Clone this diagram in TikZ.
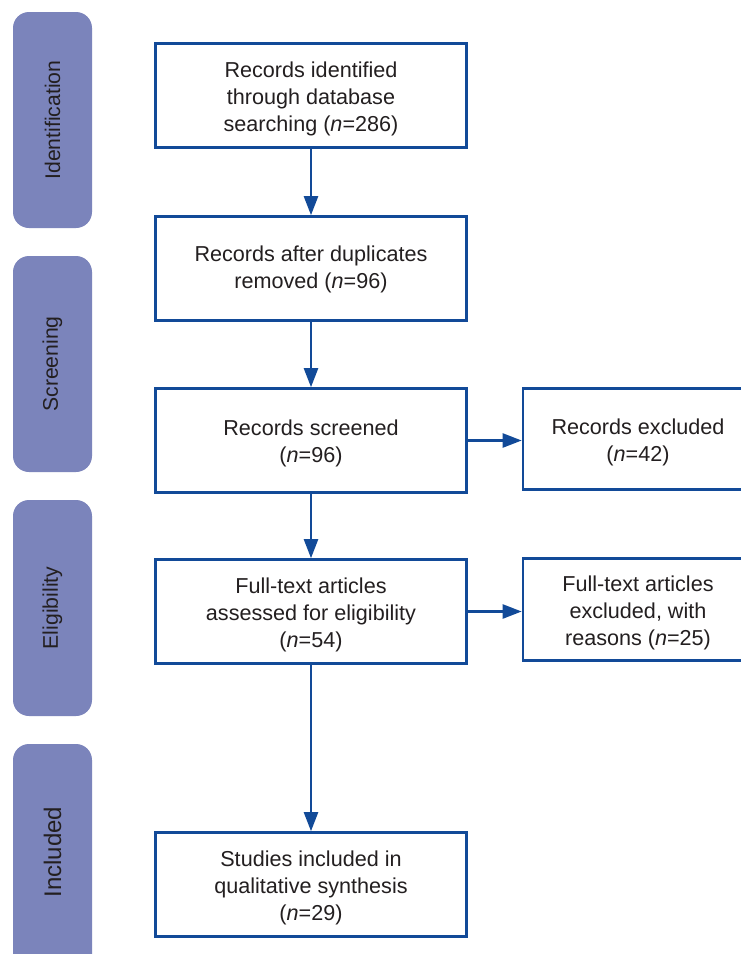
\documentclass[tikz,border=0pt]{standalone}
\usepackage{fontspec}
\setmainfont{Liberation Sans}
\usetikzlibrary{arrows.meta}
\definecolor{boxblue}{HTML}{124A98}
\definecolor{barfill}{HTML}{7B84BB}
\definecolor{txt}{HTML}{231F20}
\newcommand\lowtext[2][3.5pt]{\raisebox{-#1}[\height][\depth]{\begin{tabular}{@{}c@{}}#2\end{tabular}}}
\tikzset{
  flowbox/.style={draw=boxblue, line width=2.6pt, fill=white, text=txt,
    inner sep=0pt,
    font=\fontsize{21.6}{27}\selectfont},
  sidebar/.style={fill=barfill, rounded corners=16pt},
  sidelabel/.style={text=txt, rotate=90, font=\fontsize{21.2}{25}\selectfont},
  flowarrow/.style={draw=boxblue, line width=2.4pt,
    -{Triangle[length=19pt,width=14pt]}},
}
\begin{document}
\begin{tikzpicture}[x=1pt,y=-1pt]
\clip (0,0) rectangle (741,954);
\fill[white] (0,0) rectangle (741,954);
% side bars
\fill[sidebar] (13,12) rectangle (92,228);
\node[sidelabel] (lid) at (52.5,120) {Identification};
\fill[sidebar] (13,256) rectangle (92,472);
\node[sidelabel] (lsc) at (52.5,364) {Screening};
\fill[sidebar] (13,500) rectangle (92,716);
\node[sidelabel] (lel) at (52.5,608) {Eligibility};
\fill[sidebar] (13,744) rectangle (92,990);
\node[sidelabel, font=\fontsize{24}{28}\selectfont] (lin) at (52.5,852) {Included};
% boxes
\node[flowbox, minimum width=311pt, minimum height=104pt] (b1) at (311,95.5)
  {\lowtext{Records identified\\through database\\searching (\textit{n}=286)}};
\node[flowbox, minimum width=311pt, minimum height=104pt] (b2) at (311,268.5)
  {\lowtext[1.5pt]{Records after duplicates\\removed (\textit{n}=96)}};
\node[flowbox, minimum width=311pt, minimum height=104pt] (b3) at (311,440.5)
  {\lowtext{Records screened\\(\textit{n}=96)}};
\node[flowbox, minimum width=311pt, minimum height=104pt] (b4) at (311,611.5)
  {\lowtext{Full-text articles\\assessed for eligibility\\(\textit{n}=54)}};
\node[flowbox, minimum width=311pt, minimum height=104pt] (b5) at (311,884.5)
  {\lowtext{Studies included in\\qualitative synthesis\\(\textit{n}=29)}};
\node[flowbox, minimum width=230pt, minimum height=101pt] (r1) at (638,439)
  {\lowtext{Records excluded\\(\textit{n}=42)}};
\node[flowbox, minimum width=230pt, minimum height=102pt] (r2) at (638,609.5)
  {\lowtext{Full-text articles\\excluded, with\\reasons (\textit{n}=25)}};
% arrows
\draw[flowarrow] (b1.south) -- (b2.north);
\draw[flowarrow] (b2.south) -- (b3.north);
\draw[flowarrow] (b3.south) -- (b4.north);
\draw[flowarrow] (b4.south) -- (b5.north);
\draw[flowarrow] (b3.east) -- (b3.east -| r1.west);
\draw[flowarrow] (b4.east) -- (b4.east -| r2.west);
\end{tikzpicture}
\end{document}
